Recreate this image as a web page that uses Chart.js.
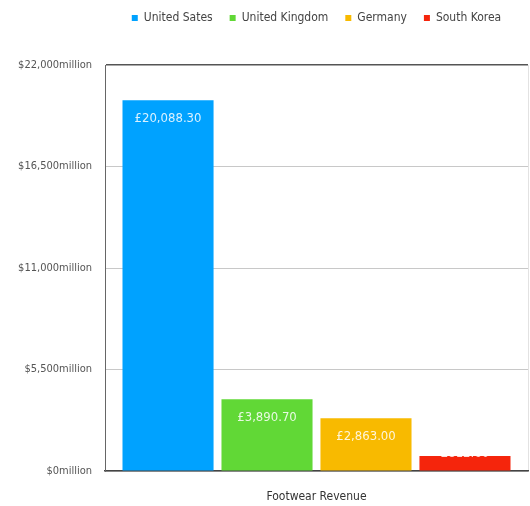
<!DOCTYPE html>
<html>
<head>
<meta charset="utf-8">
<script src="https://cdn.jsdelivr.net/npm/chart.js@4/dist/chart.umd.min.js"></script>
<style>
  html, body { margin: 0; padding: 0; background: #fff; overflow: hidden; }
  #wrap { width: 530px; height: 506px; position: relative; }
</style>
</head>
<body>
<div id="wrap"><canvas id="c"></canvas></div>
<script>
// Footwear revenue by country (millions)
const categories = ['Footwear Revenue'];
const countries = ['United Sates', 'United Kingdom', 'Germany', 'South Korea'];
const revenue = [20088.30, 3890.70, 2863.00, 812.60];
const colors = ['#00A2FF', '#61D836', '#F8BA00', '#F5250C'];
const yTicks = [0, 5500, 11000, 16500, 22000];

const FONT = '"Liberation Sans Narrow", "Arial Narrow", "DejaVu Sans", sans-serif';
const NARROW = 'normal condensed';

const fmtAxis = v => '$' + v.toLocaleString('en-US') + 'million';
const fmtLabel = v => '£' + v.toLocaleString('en-US', { minimumFractionDigits: 2, maximumFractionDigits: 2 });

// Value labels drawn inside the top of each bar
const barLabels = {
  id: 'barLabels',
  afterDatasetsDraw(chart) {
    const ctx = chart.ctx;
    const base = chart.scales.y.getPixelForValue(0);
    ctx.save();
    ctx.font = NARROW + ' 13px ' + FONT;
    ctx.fillStyle = 'rgba(255,255,255,0.85)';
    ctx.textAlign = 'center';
    ctx.textBaseline = 'middle';
    chart.data.datasets.forEach((ds, i) => {
      const meta = chart.getDatasetMeta(i);
      meta.data.forEach((bar, j) => {
        const y = Math.min(bar.y + 18, base - 17);
        ctx.fillText(fmtLabel(ds.data[j]), bar.x, y);
      });
    });
    ctx.restore();
  }
};

// Leaves room between the legend row and the plot
const legendGap = {
  id: 'legendGap',
  afterInit(chart) {
    const fit = chart.legend.fit;
    chart.legend.fit = function () {
      fit.call(this);
      this.height += 31;
    };
  }
};

new Chart(document.getElementById('c'), {
  type: 'bar',
  data: {
    labels: categories,
    datasets: countries.map((name, i) => ({
      label: name,
      data: [revenue[i]],
      backgroundColor: colors[i],
      borderWidth: 0
    }))
  },
  options: {
    responsive: true,
    maintainAspectRatio: false,
    animation: false,
    layout: { padding: { left: 0, right: 2, top: -5, bottom: 0 } },
    datasets: { bar: { categoryPercentage: 0.936, barPercentage: 0.92 } },
    plugins: {
      tooltip: { enabled: false },
      legend: {
        position: 'top',
        fullSize: false,
        labels: {
          font: { family: FONT, size: 12, weight: NARROW },
          color: '#444',
          boxWidth: 6,
          boxHeight: 6,
          padding: 17
        }
      }
    },
    scales: {
      x: {
        afterFit(scale) { scale.height = 35; },
        grid: { display: true, color: '#e2e2e2', drawTicks: false },
        border: { display: true, color: '#444', width: 1.5 },
        ticks: { font: { family: FONT, size: 12, weight: NARROW }, color: '#333', padding: 19 }
      },
      y: {
        min: 0,
        max: 22000,
        afterBuildTicks(scale) { scale.ticks = yTicks.map(v => ({ value: v })); },
        afterFit(scale) { scale.width = 105; },
        grid: {
          color: ctx => ctx.tick && ctx.tick.value === 22000 ? '#555' : '#c8c8c8',
          lineWidth: ctx => ctx.tick && ctx.tick.value === 22000 ? 1.5 : 1,
          drawTicks: false
        },
        border: { display: true, color: '#666', width: 1 },
        ticks: {
          font: { family: FONT, size: 11, weight: NARROW },
          color: '#555',
          padding: 13,
          callback: v => fmtAxis(v)
        }
      }
    }
  },
  plugins: [barLabels, legendGap]
});
</script>
</body>
</html>
